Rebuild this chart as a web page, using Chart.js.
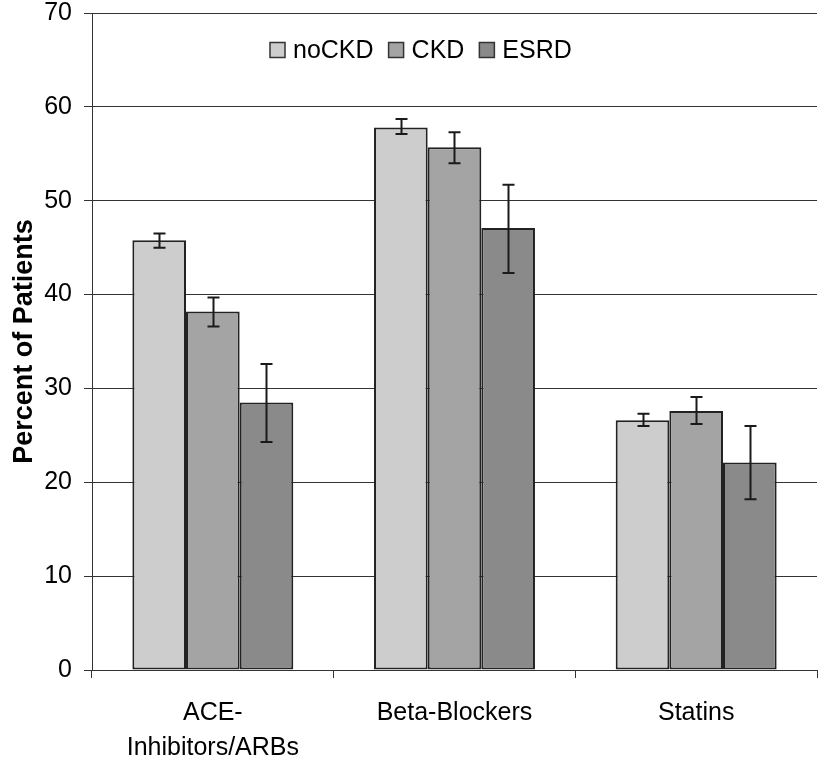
<!DOCTYPE html>
<html>
<head>
<meta charset="utf-8">
<script src="https://cdn.jsdelivr.net/npm/chart.js@4/dist/chart.umd.min.js"></script>
<style>
  html, body { margin: 0; padding: 0; background: #ffffff; }
  #wrap { width: 819px; height: 761px; }
</style>
</head>
<body>
<div id="wrap"><canvas id="c" width="819" height="761"></canvas></div>
<script>
// ---- Data ----
const categories = [["ACE-", "Inhibitors/ARBs"], "Beta-Blockers", "Statins"];
const seriesNames = ["noCKD", "CKD", "ESRD"];
const noCKD = [45.8, 57.8, 26.6];
const CKD = [38.2, 55.7, 27.6];
const ESRD = [28.5, 47.1, 22.1];
const noCKDLow = [45.0, 57.1, 26.0];
const noCKDHigh = [46.5, 58.7, 27.3];
const CKDLow = [36.6, 54.0, 26.2];
const CKDHigh = [39.7, 57.3, 29.1];
const ESRDLow = [24.3, 42.3, 18.2];
const ESRDHigh = [32.6, 51.7, 26.0];
const yTicks = [0, 10, 20, 30, 40, 50, 60, 70];

const colors = ["#cdcdcd", "#a4a4a4", "#8a8a8a"];
const FONT = "'Liberation Sans', Arial, Helvetica, sans-serif";

const errLow = [noCKDLow, CKDLow, ESRDLow];
const errHigh = [noCKDHigh, CKDHigh, ESRDHigh];

const errorBarPlugin = {
  id: 'errorBars',
  afterDatasetsDraw(chart) {
    const ctx = chart.ctx;
    const y = chart.scales.y;
    ctx.save();
    ctx.strokeStyle = '#1a1a1a';
    ctx.lineWidth = 2;
    chart.data.datasets.forEach((ds, i) => {
      const meta = chart.getDatasetMeta(i);
      meta.data.forEach((bar, j) => {
        const x = Math.round(bar.x) + 0.5;
        const yt = y.getPixelForValue(errHigh[i][j]);
        const yb = y.getPixelForValue(errLow[i][j]);
        ctx.beginPath();
        ctx.moveTo(x, yt); ctx.lineTo(x, yb);
        ctx.moveTo(x - 6, yt); ctx.lineTo(x + 6, yt);
        ctx.moveTo(x - 6, yb); ctx.lineTo(x + 6, yb);
        ctx.stroke();
      });
    });
    ctx.restore();
  }
};

const legendPlugin = {
  id: 'innerLegend',
  afterDraw(chart) {
    const ctx = chart.ctx;
    const a = chart.chartArea;
    let x = a.left + 178;
    const cy = a.top + 37;
    ctx.save();
    ctx.font = "25px " + FONT;
    ctx.textBaseline = 'middle';
    ctx.textAlign = 'left';
    chart.data.datasets.forEach((ds) => {
      ctx.fillStyle = ds.backgroundColor;
      ctx.strokeStyle = '#333333';
      ctx.lineWidth = 1.5;
      ctx.fillRect(x, cy - 7.5, 15, 15);
      ctx.strokeRect(x, cy - 7.5, 15, 15);
      ctx.fillStyle = '#000000';
      ctx.fillText(ds.label, x + 23, cy + 1);
      const w = ctx.measureText(ds.label).width;
      x += 23 + w + 15;
    });
    ctx.restore();
  }
};

const datasets = [noCKD, CKD, ESRD].map((vals, i) => ({
  label: seriesNames[i],
  data: vals,
  backgroundColor: colors[i],
  borderColor: '#222222',
  borderWidth: 2,
  borderSkipped: false,
  barPercentage: 1.0,
  categoryPercentage: 0.666
}));

new Chart(document.getElementById('c'), {
  type: 'bar',
  data: { labels: categories, datasets: datasets },
  plugins: [errorBarPlugin, legendPlugin],
  options: {
    responsive: false,
    animation: false,
    layout: { padding: { top: 0, right: 2, left: 0, bottom: 0 } },
    plugins: {
      legend: { display: false },
      tooltip: { enabled: false },
      title: { display: false }
    },
    scales: {
      x: {
        offset: true,
        grid: {
          offset: true,
          drawOnChartArea: false,
          drawTicks: true,
          tickLength: 8,
          color: '#333333',
          lineWidth: 1
        },
        border: { display: true, color: '#333333', width: 1 },
        ticks: {
          color: '#000000',
          padding: 18,
          maxRotation: 0,
          autoSkip: false,
          font: { family: FONT, size: 25, lineHeight: 1.4 }
        },
        afterFit(scale) { scale.height = 91; }
      },
      y: {
        min: 0,
        max: 70,
        afterBuildTicks(scale) { scale.ticks = yTicks.map(v => ({ value: v })); },
        grid: {
          color: '#333333',
          lineWidth: 1,
          drawTicks: true,
          tickLength: 8
        },
        border: { display: true, color: '#333333', width: 1 },
        ticks: {
          color: '#000000',
          padding: 12,
          font: { family: FONT, size: 25 }
        },
        title: {
          display: true,
          text: 'Percent of Patients',
          color: '#000000',
          padding: { top: 8, bottom: 0 },
          font: { family: FONT, size: 27, weight: 'bold' }
        },
        afterFit(scale) { scale.width = 92; scale.paddingTop = 13; scale.paddingBottom = 0; }
      }
    }
  }
});
</script>
</body>
</html>
